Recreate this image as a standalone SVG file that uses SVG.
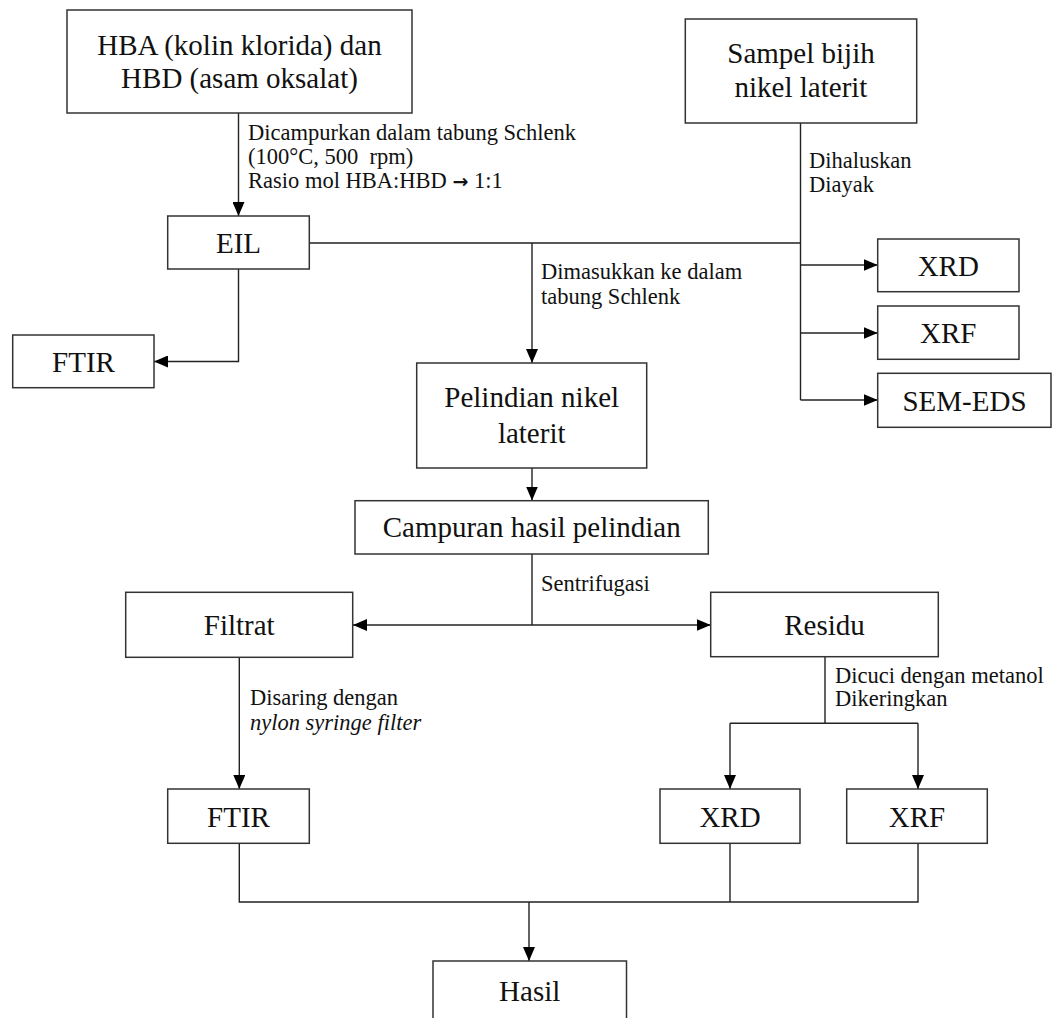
<svg xmlns="http://www.w3.org/2000/svg" width="1054" height="1018" viewBox="0 0 1054 1018">
<defs>
<style>
.box{fill:#fff;stroke:#333;stroke-width:1.5}
.t{font-family:"Liberation Serif","Times New Roman",serif;font-size:29px;fill:#111;text-anchor:middle}
.s{font-family:"Liberation Serif","Times New Roman",serif;font-size:22.5px;fill:#111}
.c{fill:none;stroke:#222;stroke-width:1.4}
.ar{font-family:"DejaVu Sans",sans-serif;font-weight:bold;font-size:19px}
</style>
<marker id="ah" markerUnits="userSpaceOnUse" markerWidth="14" markerHeight="12" refX="14" refY="6" orient="auto">
<path d="M0,0 L14,6 L0,12 z" fill="#000"/>
</marker>
</defs>
<rect width="1054" height="1018" fill="#fff"/>

<g id="connectors">
<path class="c" d="M238.5,113 V216" marker-end="url(#ah)"/>
<path class="c" d="M238.5,269 V361.5 H154" marker-end="url(#ah)"/>
<path class="c" d="M309.3,243 H800.5 M800.5,123 V400"/>
<path class="c" d="M532,243 V363" marker-end="url(#ah)"/>
<path class="c" d="M800.5,265 H877.7" marker-end="url(#ah)"/>
<path class="c" d="M800.5,333 H877.7" marker-end="url(#ah)"/>
<path class="c" d="M800.5,400 H877.7" marker-end="url(#ah)"/>
<path class="c" d="M532,468 V500.5" marker-end="url(#ah)"/>
<path class="c" d="M532,554 V625"/>
<path class="c" d="M532,625 H353" marker-end="url(#ah)"/>
<path class="c" d="M532,625 H710.7" marker-end="url(#ah)"/>
<path class="c" d="M239.3,657 V789" marker-end="url(#ah)"/>
<path class="c" d="M825,657 V723.3 M730,723.3 H918"/>
<path class="c" d="M730,723.3 V789" marker-end="url(#ah)"/>
<path class="c" d="M918,723.3 V789" marker-end="url(#ah)"/>
<path class="c" d="M239.3,843.5 V902 H918 V843.5 M730,843.5 V902"/>
<path class="c" d="M529,902 V961" marker-end="url(#ah)"/>
</g>

<g id="n-hba">
<rect class="box" x="67" y="10" width="345" height="103"/>
<text class="t" x="239.5" y="55">HBA (kolin klorida) dan</text>
<text class="t" x="239.5" y="88">HBD (asam oksalat)</text>
</g>
<g id="n-sampel">
<rect class="box" x="685.3" y="19" width="231.4" height="104"/>
<text class="t" x="801" y="63">Sampel bijih</text>
<text class="t" x="801" y="97">nikel laterit</text>
</g>
<g id="n-eil">
<rect class="box" x="167.7" y="216" width="141.6" height="53"/>
<text class="t" x="238.5" y="253">EIL</text>
</g>
<g id="n-ftir1">
<rect class="box" x="12.7" y="335" width="141.3" height="52.7"/>
<text class="t" x="83.5" y="371.5">FTIR</text>
</g>
<g id="n-xrd1">
<rect class="box" x="877.7" y="239" width="141.3" height="52.7"/>
<text class="t" x="948.3" y="275.5">XRD</text>
</g>
<g id="n-xrf1">
<rect class="box" x="877.7" y="306" width="141.3" height="53.3"/>
<text class="t" x="948.3" y="343">XRF</text>
</g>
<g id="n-semeds">
<rect class="box" x="877.7" y="373.3" width="173.3" height="54"/>
<text class="t" x="964.5" y="410.5">SEM-EDS</text>
</g>
<g id="n-pelindian">
<rect class="box" x="416.7" y="363" width="230" height="105"/>
<text class="t" x="531.7" y="407">Pelindian nikel</text>
<text class="t" x="531.7" y="443">laterit</text>
</g>
<g id="n-campuran">
<rect class="box" x="355" y="500.7" width="353.3" height="53.3"/>
<text class="t" x="531.7" y="537">Campuran hasil pelindian</text>
</g>
<g id="n-filtrat">
<rect class="box" x="125.7" y="592.3" width="227" height="65"/>
<text class="t" x="239.2" y="635">Filtrat</text>
</g>
<g id="n-residu">
<rect class="box" x="710.7" y="592.3" width="227.6" height="64.4"/>
<text class="t" x="824.5" y="635">Residu</text>
</g>
<g id="n-ftir2">
<rect class="box" x="167.7" y="789" width="141.6" height="54.3"/>
<text class="t" x="238.5" y="827">FTIR</text>
</g>
<g id="n-xrd2">
<rect class="box" x="660" y="789" width="140" height="54.3"/>
<text class="t" x="730" y="827">XRD</text>
</g>
<g id="n-xrf2">
<rect class="box" x="846.7" y="789" width="140.6" height="54.3"/>
<text class="t" x="917" y="827">XRF</text>
</g>
<g id="n-hasil">
<rect class="box" x="433" y="961" width="193.5" height="80"/>
<text class="t" x="529.7" y="1001">Hasil</text>
</g>

<g id="labels">
<text class="s" x="248" y="140">Dicampurkan dalam tabung Schlenk</text>
<text class="s" x="248" y="164" xml:space="preserve">(100°C, 500  rpm)</text>
<text class="s" x="248" y="188">Rasio mol HBA:HBD <tspan class="ar">→</tspan> 1:1</text>
<text class="s" x="809" y="168">Dihaluskan</text>
<text class="s" x="809" y="192">Diayak</text>
<text class="s" x="541" y="279">Dimasukkan ke dalam</text>
<text class="s" x="541" y="304">tabung Schlenk</text>
<text class="s" x="541" y="591">Sentrifugasi</text>
<text class="s" x="250" y="705">Disaring dengan</text>
<text class="s" x="250" y="730" font-style="italic">nylon syringe filter</text>
<text class="s" x="835" y="683">Dicuci dengan metanol</text>
<text class="s" x="835" y="706">Dikeringkan</text>
</g>
</svg>
